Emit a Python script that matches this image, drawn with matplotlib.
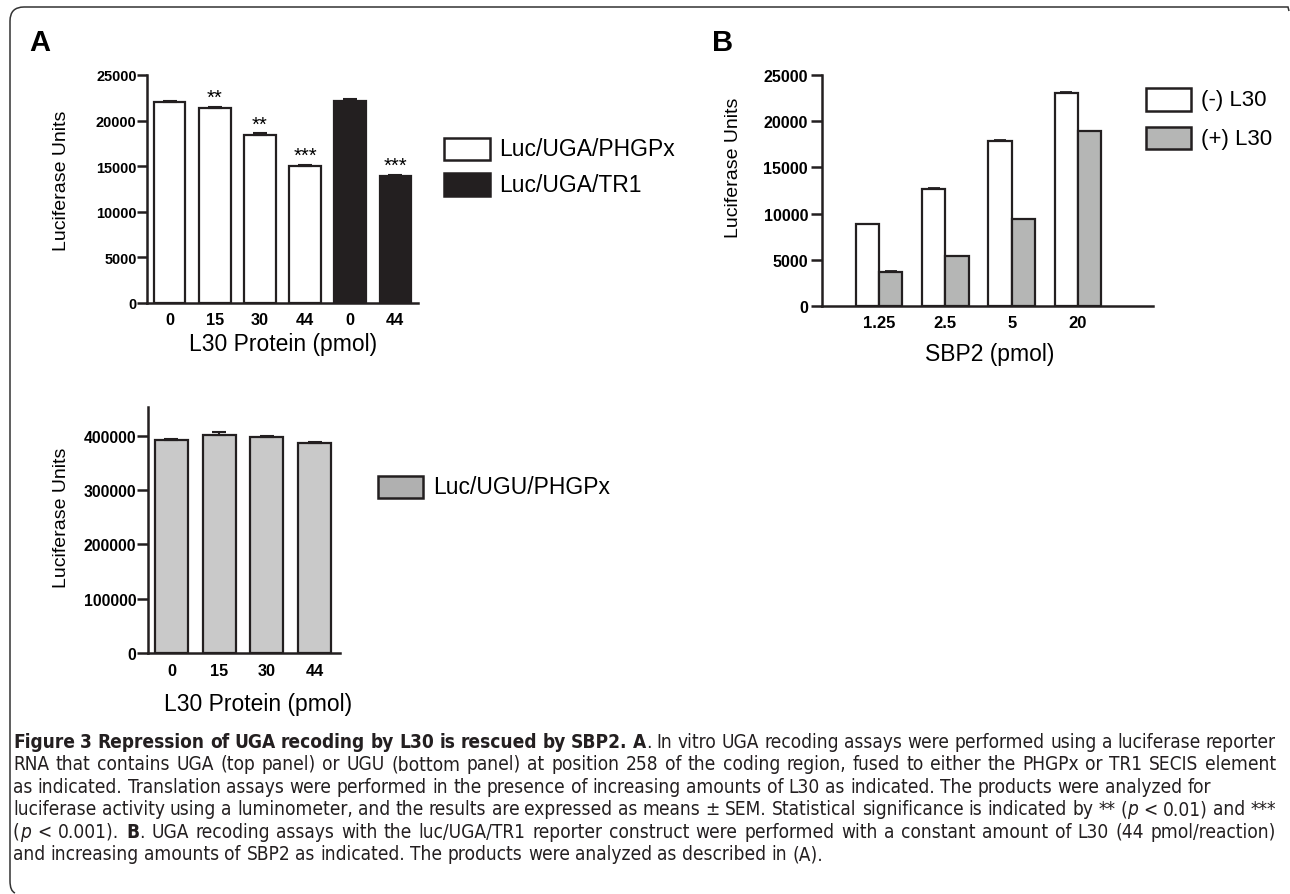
import numpy as np
import matplotlib
matplotlib.use('Agg')
import matplotlib.pyplot as plt
from matplotlib import font_manager as fm
from matplotlib.patches import Rectangle, PathPatch
from matplotlib.path import Path

# ---- data ----
# panel A, top: UGA reporter with increasing L30
a_labels = ['0', '15', '30', '44', '0', '44']
a_groups = ['Luc/UGA/PHGPx'] * 4 + ['Luc/UGA/TR1'] * 2
a_values = [22000, 21400, 18400, 15000, 22200, 13950]
a_errors = [150, 120, 200, 100, 150, 100]
a_stars = ['', '**', '**', '***', '', '***']

# panel A, bottom: UGU reporter
c_labels = ['0', '15', '30', '44']
c_values = [392000, 401000, 397000, 387000]
c_errors = [2500, 6000, 2000, 2000]

# panel B: SBP2 titration
b_labels = ['1.25', '2.5', '5', '20']
b_minus = [8850, 12700, 17900, 23000]
b_plus = [3700, 5400, 9400, 18900]
b_minus_err = [60, 60, 80, 150]
b_plus_err = [60, 60, 60, 60]

W, H = 1290, 895
INK = '#231f20'
SANS = ['Liberation Sans', 'DejaVu Sans']


def find(family, stretch='normal'):
    try:
        return fm.findfont(fm.FontProperties(family=family, stretch=stretch),
                           fallback_to_default=False)
    except ValueError:
        return None


# narrow font for GraphPad-style tick labels if present, else plain Arial-like, a bit smaller
narrow_path = find('Liberation Sans Narrow')
has_narrow = bool(narrow_path and 'arrow' in narrow_path)
if has_narrow:
    NARROW = dict(family=['Liberation Sans Narrow'] + SANS)
    tick_scale = 1.0
else:
    NARROW = dict(family=SANS)
    tick_scale = 0.87

# caption is set in a condensed face in the journal
cond_path = find('DejaVu Sans', 'condensed')
if has_narrow:
    CAP = dict(family=['Liberation Sans Narrow'] + SANS, fontstretch='normal')
elif cond_path and 'ondensed' in cond_path:
    CAP = dict(family=['DejaVu Sans'], fontstretch='condensed')
else:
    CAP = dict(family=SANS, fontstretch='normal')

plt.rcParams['font.family'] = SANS
fig = plt.figure(figsize=(W / 100, H / 100), dpi=100)


def px_axes(left, top, right, bottom):
    return fig.add_axes([left / W, 1 - bottom / H, (right - left) / W, (bottom - top) / H])


def fx(x):
    return x / W


def fy(y):
    return 1 - y / H


def style_axes(ax, tick_len, ypad, xpad, yfont, xfont):
    for s in ['top', 'right']:
        ax.spines[s].set_visible(False)
    for s in ['left', 'bottom']:
        ax.spines[s].set_linewidth(1.8)
        ax.spines[s].set_color(INK)
    ax.tick_params(axis='y', length=tick_len, width=1.8, color=INK, pad=ypad)
    ax.tick_params(axis='x', length=0, pad=xpad)
    for t in ax.get_yticklabels():
        t.set(**yfont)
    for t in ax.get_xticklabels():
        t.set(**xfont)


# ---- panel A top ----
axA = px_axes(147, 76, 418, 304)
xa = np.arange(len(a_values))
fill = {'Luc/UGA/PHGPx': 'white', 'Luc/UGA/TR1': INK}
axA.bar(xa, a_values, width=0.69, color=[fill[g] for g in a_groups],
        edgecolor=INK, linewidth=1.6, zorder=2)
axA.errorbar(xa, a_values, yerr=[np.zeros(len(a_errors)), a_errors], fmt='none',
             ecolor=INK, elinewidth=1.5, capsize=5, capthick=1.5, zorder=3)
for i, s in enumerate(a_stars):
    if s:
        axA.annotate(s, (xa[i], a_values[i] + a_errors[i]), xytext=(0, 0),
                     textcoords='offset points', ha='center', va='bottom', fontsize=14.5)
axA.set_xlim(-0.51, 5.51)
axA.set_ylim(0, 25000)
axA.set_yticks(range(0, 25001, 5000))
axA.set_xticks(xa)
axA.set_xticklabels(a_labels)
style_axes(axA, 7, 0.5, 6.5,
           dict(fontweight='bold', fontsize=12 * tick_scale, **NARROW),
           dict(fontweight='bold', fontsize=13.5 * tick_scale, **NARROW))
fig.text(fx(62), fy(181), 'Luciferase Units', rotation=90, ha='center', va='center', fontsize=14)
fig.text(fx(283), fy(345), 'L30 Protein (pmol)', ha='center', va='center', fontsize=16.5)

# legend A
for (top, bot), g in zip([(139, 161), (174, 197)], ['Luc/UGA/PHGPx', 'Luc/UGA/TR1']):
    fig.patches.append(Rectangle((fx(444), fy(bot)), fx(490) - fx(444), fy(top) - fy(bot),
                                 transform=fig.transFigure, facecolor=fill[g],
                                 edgecolor=INK, linewidth=1.8))
    fig.text(fx(499), fy((top + bot) / 2), g, ha='left', va='center', fontsize=16.5)

# ---- panel A bottom ----
axC = px_axes(148, 408, 340, 654)
xc = np.arange(len(c_values))
axC.bar(xc, c_values, width=0.69, color='#c9c9c9', edgecolor=INK, linewidth=1.6, zorder=2)
axC.errorbar(xc, c_values, yerr=[np.zeros(len(c_errors)), c_errors], fmt='none',
             ecolor=INK, elinewidth=1.5, capsize=5, capthick=1.5, zorder=3)
axC.set_xlim(-0.49, 3.53)
axC.set_ylim(0, 453000)
axC.set_yticks(range(0, 400001, 100000))
axC.set_xticks(xc)
axC.set_xticklabels(c_labels)
style_axes(axC, 8, 0.5, 7,
           dict(fontweight='bold', fontsize=13 * tick_scale, **NARROW),
           dict(fontweight='bold', fontsize=13.5 * tick_scale, **NARROW))
fig.text(fx(62), fy(518), 'Luciferase Units', rotation=90, ha='center', va='center', fontsize=14)
fig.text(fx(258), fy(705), 'L30 Protein (pmol)', ha='center', va='center', fontsize=16.5)

fig.patches.append(Rectangle((fx(378), fy(499)), fx(423) - fx(378), fy(477) - fy(499),
                             transform=fig.transFigure, facecolor='#b0b0b0',
                             edgecolor=INK, linewidth=1.8))
fig.text(fx(433), fy(488), 'Luc/UGU/PHGPx', ha='left', va='center', fontsize=16.5)

# ---- panel B ----
axB = px_axes(822, 76, 1153, 307)
xb = np.arange(len(b_labels))
bw = 0.35
axB.bar(xb - bw / 2, b_minus, width=bw, color='white', edgecolor=INK, linewidth=1.6,
        zorder=2, label='(-) L30')
axB.bar(xb + bw / 2, b_plus, width=bw, color='#b5b6b5', edgecolor=INK, linewidth=1.6,
        zorder=2, label='(+) L30')
axB.errorbar(xb - bw / 2, b_minus, yerr=[np.zeros(4), b_minus_err], fmt='none',
             ecolor=INK, elinewidth=1.3, capsize=4, capthick=1.3, zorder=3)
axB.errorbar(xb + bw / 2, b_plus, yerr=[np.zeros(4), b_plus_err], fmt='none',
             ecolor=INK, elinewidth=1.3, capsize=4, capthick=1.3, zorder=3)
axB.set_xlim(-0.86, 4.13)
axB.set_ylim(0, 25000)
axB.set_yticks(range(0, 25001, 5000))
axB.set_xticks(xb)
axB.set_xticklabels(b_labels)
style_axes(axB, 8, 2, 6.5,
           dict(fontweight='bold', fontsize=11.5),
           dict(fontweight='bold', fontsize=12))
fig.text(fx(733), fy(168), 'Luciferase Units', rotation=90, ha='center', va='center', fontsize=14)
fig.text(fx(990), fy(355), 'SBP2 (pmol)', ha='center', va='center', fontsize=16.5)

for (top, bot), col, lab in zip([(89, 112), (128, 150)], ['white', '#b5b6b5'],
                                ['(-) L30', '(+) L30']):
    fig.patches.append(Rectangle((fx(1146), fy(bot)), fx(1191) - fx(1146), fy(top) - fy(bot),
                                 transform=fig.transFigure, facecolor=col,
                                 edgecolor=INK, linewidth=1.8))
    fig.text(fx(1201), fy((top + bot) / 2), lab, ha='left', va='center', fontsize=16)

# panel letters
fig.text(fx(29), fy(43), 'A', ha='left', va='center', fontsize=21, fontweight='bold')
fig.text(fx(712), fy(43), 'B', ha='left', va='center', fontsize=21, fontweight='bold')

# ---- frame ----
verts = [(1289, 12), (1288, 8), (24, 8), (10, 8), (10, 22), (10, 882), (10, 892), (15, 894)]
codes = [Path.MOVETO, Path.LINETO, Path.LINETO, Path.CURVE3, Path.CURVE3,
         Path.LINETO, Path.CURVE3, Path.CURVE3]
frame = Path([(fx(x), fy(y)) for x, y in verts], codes)
fig.patches.append(PathPatch(frame, transform=fig.transFigure, fill=False,
                             edgecolor='#333333', linewidth=1.1))

# ---- caption ----
caption = [
    ([('Figure 3 Repression of UGA recoding by L30 is rescued by SBP2. A', 'b'),
      ('. In vitro UGA recoding assays were performed using a luciferase reporter', 'n')], True),
    ([('RNA that contains UGA (top panel) or UGU (bottom panel) at position 258 of the coding '
       'region, fused to either the PHGPx or TR1 SECIS element', 'n')], True),
    ([('as indicated. Translation assays were performed in the presence of increasing amounts '
       'of L30 as indicated. The products were analyzed for', 'n')], False),
    ([('luciferase activity using a luminometer, and the results are expressed as means \u00b1 SEM. '
       'Statistical significance is indicated by ** (', 'n'), ('p', 'i'), (' < 0.01) and ***', 'n')], True),
    ([('(', 'n'), ('p', 'i'), (' < 0.001). ', 'n'), ('B', 'b'),
      ('. UGA recoding assays with the luc/UGA/TR1 reporter construct were performed with a '
       'constant amount of L30 (44 pmol/reaction)', 'n')], True),
    ([('and increasing amounts of SBP2 as indicated. The products were analyzed as described in (A).', 'n')], False),
]
baselines = [748, 770.5, 793, 815.5, 838, 860.5]
x_left, x_right = 13, 1276
kinds = {'n': dict(fontweight='normal', fontstyle='normal'),
         'b': dict(fontweight='bold', fontstyle='normal'),
         'i': dict(fontweight='normal', fontstyle='italic')}

fig.canvas.draw()
renderer = fig.canvas.get_renderer()


def tokenize(segs):
    toks = []
    space = False
    for text, kind in segs:
        for j, part in enumerate(text.split(' ')):
            if j > 0:
                space = True
            if part == '':
                continue
            toks.append((part, kind, space and len(toks) > 0))
            space = False
    return toks


def width(s, kind, size):
    t = fig.text(0, 0, s, fontsize=size, **CAP, **kinds[kind])
    w = t.get_window_extent(renderer).width
    t.remove()
    return w


base = 12.0
sp = width('a a', 'n', base) - width('aa', 'n', base)
fits = []
for segs, just in caption:
    if just:
        toks = tokenize(segs)
        nat = sum(width(p, k, base) for p, k, _ in toks) + sp * sum(g for _, _, g in toks)
        fits.append(base * (x_right - x_left) / nat)
size = min(min(fits), 13.8)
sp = width('a a', 'n', size) - width('aa', 'n', size)

for (segs, just), yb in zip(caption, baselines):
    toks = tokenize(segs)
    ws = [width(p, k, size) for p, k, _ in toks]
    ngap = sum(g for _, _, g in toks)
    gap = (x_right - x_left - sum(ws)) / ngap if just else sp
    x = x_left
    for (p, k, g), w in zip(toks, ws):
        if g:
            x += gap
        fig.text(fx(x), fy(yb), p, fontsize=size, ha='left', va='baseline',
                 color='#231f20', **CAP, **kinds[k])
        x += w

fig.savefig('out.png', dpi=100)
